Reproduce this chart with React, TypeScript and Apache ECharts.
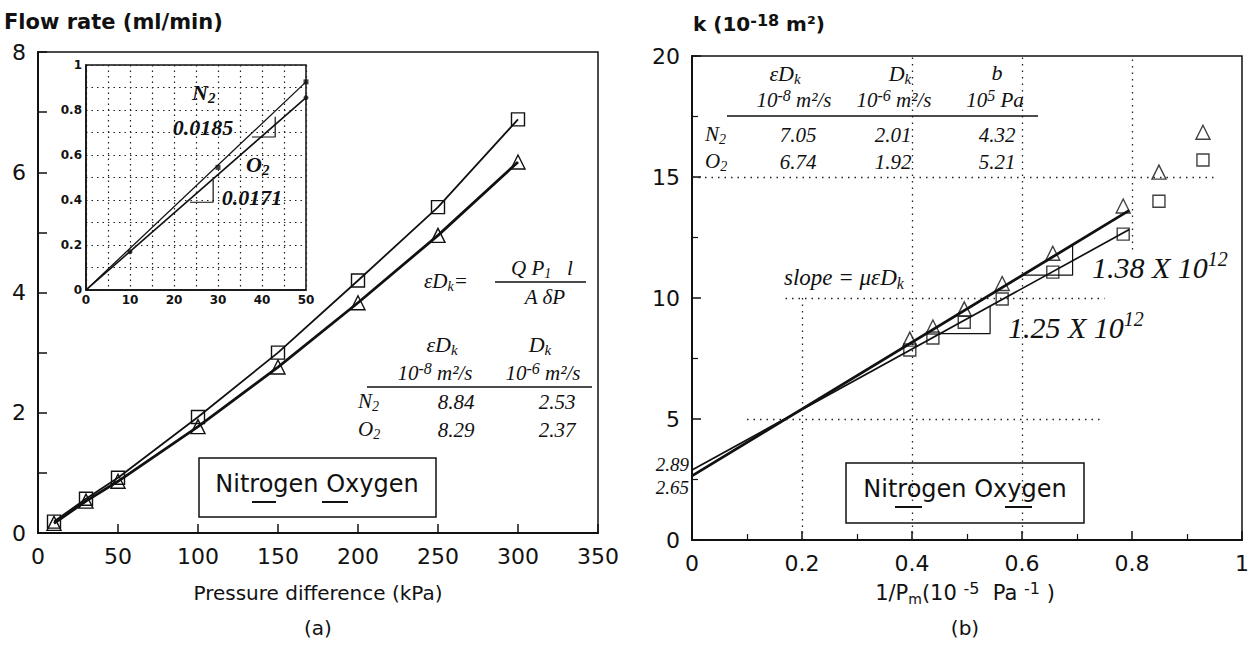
import React, { useEffect, useRef } from 'react';
import * as echarts from 'echarts';

// ---------- data (a) ----------
const PRESSURE_KPA = [10, 30, 50, 100, 150, 200, 250, 300];
const FLOW_N2 = [0.19, 0.57, 0.92, 1.93, 3.0, 4.2, 5.42, 6.88];
const FLOW_O2 = [0.16, 0.53, 0.86, 1.77, 2.76, 3.83, 4.95, 6.17];

// inset
const INSET_SLOPE_N2 = 0.0185;
const INSET_SLOPE_O2 = 0.0171;
const INSET_X_END = 50;
const INSET_N2_POINTS = [[30, 0.545], [50, 0.925]];
const INSET_O2_POINTS = [[10, 0.17], [50, 0.855]];
const INSET_TRI_N2 = [[37.7, 0.68], [43, 0.68], [43, 0.77]];
const INSET_TRI_O2 = [[23.6, 0.39], [28.9, 0.39], [28.9, 0.49]];

// ---------- data (b) ----------
const INV_PM = [0.396, 0.438, 0.495, 0.564, 0.656, 0.784];
const K_N2 = [7.85, 8.35, 9.0, 9.96, 11.07, 12.64];
const K_O2 = [8.3, 8.8, 9.55, 10.6, 11.85, 13.8];
const EXTRA_INV_PM = [0.849, 0.929];
const EXTRA_K_N2 = [14.0, 15.7];
const EXTRA_K_O2 = [15.2, 16.85];
const N2_INTERCEPT = 2.89;
const N2_SLOPE = 12.5;
const O2_INTERCEPT = 2.65;
const O2_SLOPE = 13.8;
const FIT_X_END = 0.795;
const TRI_N2_X = [0.451, 0.542];
const TRI_O2_X = [0.601, 0.692];
// dotted guide segments [x1, y1, x2, y2]
const GUIDE_SEGMENTS = [
  [0.2, 0, 0.2, 10],
  [0.4, 0, 0.4, 20],
  [0.6, 0, 0.6, 20],
  [0.8, 12, 0.8, 20],
  [0.1, 5, 0.75, 5],
  [0.17, 10, 0.75, 10],
  [0, 15, 0.95, 15],
];

const INK = '#111';
const SANS = 'DejaVu Sans';
const SERIF = 'Liberation Serif';

const rich = (x: number, y: number, text: string, size: number, o: any = {}) => {
  const family = o.family ?? SERIF;
  const fontStyle = o.italic === false ? 'normal' : 'italic';
  const fontWeight = o.bold ? 'bold' : 'normal';
  const base = { fill: INK, fontFamily: family, fontStyle, fontWeight };
  const supScale = o.supScale ?? 0.68;
  return {
    type: 'text',
    x,
    y,
    z: 50,
    style: {
      text,
      align: o.align ?? 'left',
      verticalAlign: 'middle',
      fontSize: size,
      fontFamily: family,
      fontStyle,
      fontWeight,
      fill: INK,
      rich: {
        m: { ...base, fontSize: size, lineHeight: Math.round(size * 1.2), verticalAlign: 'middle' },
        sub: { ...base, fontSize: Math.round(size * 0.68), lineHeight: Math.round(size * 0.6), verticalAlign: 'bottom' },
        sup: { ...base, fontSize: Math.round(size * supScale), lineHeight: Math.round(size * 0.5), verticalAlign: 'top' },
      },
    },
  };
};

const hline = (x1: number, y1: number, x2: number, y2: number, w = 1.5) => ({
  type: 'line',
  z: 50,
  shape: { x1, y1, x2, y2 },
  style: { stroke: INK, lineWidth: w },
});

const box = (x: number, y: number, width: number, height: number) => ({
  type: 'rect',
  z: 40,
  shape: { x, y, width, height },
  style: { fill: 'none', stroke: INK, lineWidth: 1.5 },
});

const sans = { family: SANS, italic: false };

const axisBase = {
  type: 'value',
  axisLine: { show: true, onZero: false, lineStyle: { color: INK, width: 2 } },
  axisTick: { show: true, inside: true, length: 9, lineStyle: { color: INK, width: 1.5 } },
  axisLabel: { color: INK, fontFamily: SANS, fontSize: 22 },
  splitLine: { show: false },
};

const hollow = { color: 'transparent', borderColor: INK, borderWidth: 1.4 };

export default function App() {
  const ref = useRef<HTMLDivElement>(null);

  useEffect(() => {
    if (!ref.current) return;
    const chart = echarts.init(ref.current, undefined, { renderer: 'svg' });

    const triData = (xs: number[], b: number, s: number) => [
      [xs[0], b + s * xs[0]],
      [xs[1], b + s * xs[0]],
      [xs[1], b + s * xs[1]],
    ];

    const option: any = {
      animation: false,
      backgroundColor: '#fff',
      grid: [
        { left: 38, top: 52, width: 560, height: 481, show: true, borderColor: INK, borderWidth: 1.5, backgroundColor: 'transparent' },
        { left: 86, top: 65, width: 220, height: 225, show: true, borderColor: INK, borderWidth: 1.5, backgroundColor: '#fff' },
        { left: 692, top: 56, width: 550, height: 484, show: true, borderColor: INK, borderWidth: 1.5, backgroundColor: 'transparent' },
      ],
      xAxis: [
        { ...axisBase, gridIndex: 0, min: 0, max: 350, interval: 50, axisLabel: { ...axisBase.axisLabel, margin: 12 } },
        {
          ...axisBase,
          gridIndex: 1,
          min: 0,
          max: 50,
          interval: 5,
          axisLine: { show: true, lineStyle: { color: INK, width: 1.5 } },
          axisTick: { show: false },
          axisLabel: {
            color: INK, fontFamily: SANS, fontSize: 12, fontWeight: 'bold', margin: 4,
            formatter: (v: number) => (Math.round(v) % 10 === 0 ? String(Math.round(v)) : ''),
          },
          splitLine: { show: true, lineStyle: { color: '#222', width: 1.2, type: [1.5, 4] } },
        },
        {
          ...axisBase,
          gridIndex: 2,
          min: 0,
          max: 1,
          interval: 0.2,
          minorTick: { show: true, splitNumber: 2, length: 6, lineStyle: { color: INK, width: 1.2 } },
          axisLabel: { ...axisBase.axisLabel, margin: 12, formatter: (v: number) => String(Math.round(v * 10) / 10) },
        },
      ],
      yAxis: [
        {
          ...axisBase,
          gridIndex: 0,
          min: 0,
          max: 8,
          interval: 1,
          axisLabel: { ...axisBase.axisLabel, margin: 12, formatter: (v: number) => (v % 2 === 0 ? String(v) : '') },
        },
        {
          ...axisBase,
          gridIndex: 1,
          min: 0,
          max: 1,
          interval: 0.1,
          axisLine: { show: true, lineStyle: { color: INK, width: 1.5 } },
          axisTick: { show: false },
          axisLabel: {
            color: INK, fontFamily: SANS, fontSize: 12, fontWeight: 'bold', margin: 4,
            formatter: (v: number) => {
              const t = Math.round(v * 10);
              return t % 2 === 0 ? String(t / 10) : '';
            },
          },
          splitLine: { show: true, lineStyle: { color: '#222', width: 1.2, type: [1.5, 4] } },
        },
        {
          ...axisBase,
          gridIndex: 2,
          min: 0,
          max: 20,
          interval: 5,
          minorTick: { show: true, splitNumber: 2, length: 6, lineStyle: { color: INK, width: 1.2 } },
          axisLabel: { ...axisBase.axisLabel, margin: 12 },
        },
      ],
      series: [
        {
          type: 'line', xAxisIndex: 0, yAxisIndex: 0, z: 4,
          data: PRESSURE_KPA.map((p, i) => [p, FLOW_N2[i]]),
          symbol: 'rect', symbolSize: 13,
          lineStyle: { color: INK, width: 1.8 }, itemStyle: hollow,
        },
        {
          type: 'line', xAxisIndex: 0, yAxisIndex: 0, z: 4,
          data: PRESSURE_KPA.map((p, i) => [p, FLOW_O2[i]]),
          symbol: 'triangle', symbolSize: 14,
          lineStyle: { color: INK, width: 2.8 }, itemStyle: hollow,
        },
        {
          type: 'line', xAxisIndex: 1, yAxisIndex: 1, z: 4, showSymbol: false,
          data: [[0, 0], [INSET_X_END, INSET_SLOPE_N2 * INSET_X_END]],
          lineStyle: { color: INK, width: 1.3 },
        },
        {
          type: 'line', xAxisIndex: 1, yAxisIndex: 1, z: 4, showSymbol: false,
          data: [[0, 0], [INSET_X_END, INSET_SLOPE_O2 * INSET_X_END]],
          lineStyle: { color: INK, width: 1.6 },
        },
        {
          type: 'scatter', xAxisIndex: 1, yAxisIndex: 1, z: 5,
          data: INSET_N2_POINTS, symbol: 'rect', symbolSize: 5, itemStyle: { color: INK },
        },
        {
          type: 'scatter', xAxisIndex: 1, yAxisIndex: 1, z: 5,
          data: INSET_O2_POINTS, symbol: 'circle', symbolSize: 5, itemStyle: { color: INK },
        },
        {
          type: 'line', xAxisIndex: 1, yAxisIndex: 1, z: 4, showSymbol: false,
          data: INSET_TRI_N2, lineStyle: { color: INK, width: 1.2 },
        },
        {
          type: 'line', xAxisIndex: 1, yAxisIndex: 1, z: 4, showSymbol: false,
          data: INSET_TRI_O2, lineStyle: { color: INK, width: 1.2 },
        },
        {
          type: 'line', xAxisIndex: 2, yAxisIndex: 2, z: 4, showSymbol: false,
          data: [[0, N2_INTERCEPT], [FIT_X_END, N2_INTERCEPT + N2_SLOPE * FIT_X_END]],
          lineStyle: { color: INK, width: 1.7 },
          markLine: {
            silent: true, symbol: 'none', label: { show: false },
            lineStyle: { type: [1.5, 5], color: '#222', width: 1.3 },
            data: GUIDE_SEGMENTS.map(([x1, y1, x2, y2]) => [{ coord: [x1, y1] }, { coord: [x2, y2] }]),
          },
        },
        {
          type: 'line', xAxisIndex: 2, yAxisIndex: 2, z: 4, showSymbol: false,
          data: [[0, O2_INTERCEPT], [FIT_X_END, O2_INTERCEPT + O2_SLOPE * FIT_X_END]],
          lineStyle: { color: INK, width: 2.8 },
        },
        {
          type: 'scatter', xAxisIndex: 2, yAxisIndex: 2, z: 5,
          data: [...INV_PM.map((x, i) => [x, K_N2[i]]), ...EXTRA_INV_PM.map((x, i) => [x, EXTRA_K_N2[i]])],
          symbol: 'rect', symbolSize: 12, itemStyle: hollow,
        },
        {
          type: 'scatter', xAxisIndex: 2, yAxisIndex: 2, z: 5,
          data: [...INV_PM.map((x, i) => [x, K_O2[i]]), ...EXTRA_INV_PM.map((x, i) => [x, EXTRA_K_O2[i]])],
          symbol: 'triangle', symbolSize: 14, itemStyle: hollow,
        },
        {
          type: 'line', xAxisIndex: 2, yAxisIndex: 2, z: 4, showSymbol: false,
          data: triData(TRI_N2_X, N2_INTERCEPT, N2_SLOPE), lineStyle: { color: INK, width: 1.2 },
        },
        {
          type: 'line', xAxisIndex: 2, yAxisIndex: 2, z: 4, showSymbol: false,
          data: triData(TRI_O2_X, O2_INTERCEPT, O2_SLOPE), lineStyle: { color: INK, width: 1.2 },
        },
      ],
      graphic: [
        // ---- (a) ----
        rich(4, 22, '{m|Flow rate (ml/min)}', 21, { ...sans, bold: true }),
        rich(318, 593, '{m|Pressure difference (kPa)}', 20, { ...sans, align: 'center' }),
        rich(318, 628, '{m|(a)}', 20, { ...sans, align: 'center' }),
        rich(424, 281, '{m|εD}{sub|k}{m|=}', 21),
        rich(542, 268, '{m|Q P}{sub|1}{m|   l}', 21, { align: 'center' }),
        hline(495, 282, 586, 282, 1.3),
        rich(545, 297, '{m|A δP}', 21, { align: 'center' }),
        rich(442, 344, '{m|εD}{sub|k}', 22, { align: 'center' }),
        rich(540, 344, '{m|D}{sub|k}', 22, { align: 'center' }),
        rich(435, 373, '{m|10}{sup|-8}{m| m²/s}', 21, { align: 'center', supScale: 0.75 }),
        rich(543, 373, '{m|10}{sup|-6}{m| m²/s}', 21, { align: 'center', supScale: 0.75 }),
        hline(367, 387, 592, 387),
        rich(358, 401, '{m|N}{sub|2}', 21),
        rich(456, 402, '{m|8.84}', 21, { align: 'center' }),
        rich(557, 402, '{m|2.53}', 21, { align: 'center' }),
        rich(358, 429, '{m|O}{sub|2}', 21),
        rich(456, 430, '{m|8.29}', 21, { align: 'center' }),
        rich(557, 430, '{m|2.37}', 21, { align: 'center' }),
        rich(192, 92, '{m|N}{sub|2}', 22, { bold: true }),
        rich(203, 127, '{m|0.0185}', 22, { bold: true, align: 'center' }),
        rich(246, 164, '{m|O}{sub|2}', 22, { bold: true }),
        rich(252, 197, '{m|0.0171}', 22, { bold: true, align: 'center' }),
        box(199, 458, 237, 59),
        rich(317, 484, '{m|Nitrogen Oxygen}', 24, { ...sans, align: 'center' }),
        hline(252, 502, 276, 502, 2),
        hline(322, 502, 348, 502, 2),
        // ---- (b) ----
        rich(693, 24, '{m|k (10}{sup|-18}{m| m²)}', 20, { ...sans, bold: true, supScale: 0.8 }),
        rich(965, 593, '{m|1/P}{sub|m}{m|(10 }{sup|-5}{m|  Pa }{sup|-1}{m| )}', 21, { ...sans, align: 'center', supScale: 0.75 }),
        rich(965, 628, '{m|(b)}', 20, { ...sans, align: 'center' }),
        rich(785, 73, '{m|εD}{sub|k}', 22, { align: 'center' }),
        rich(900, 73, '{m|D}{sub|k}', 22, { align: 'center' }),
        rich(997, 72, '{m|b}', 22, { align: 'center' }),
        rich(794, 100, '{m|10}{sup|-8}{m| m²/s}', 21, { align: 'center', supScale: 0.75 }),
        rich(894, 100, '{m|10}{sup|-6}{m| m²/s}', 21, { align: 'center', supScale: 0.75 }),
        rich(995, 100, '{m|10}{sup|5}{m| Pa}', 21, { align: 'center', supScale: 0.75 }),
        hline(727, 116, 1038, 116),
        rich(705, 134, '{m|N}{sub|2}', 21),
        rich(798, 135, '{m|7.05}', 21, { align: 'center' }),
        rich(893, 135, '{m|2.01}', 21, { align: 'center' }),
        rich(997, 135, '{m|4.32}', 21, { align: 'center' }),
        rich(705, 161, '{m|O}{sub|2}', 21),
        rich(798, 162, '{m|6.74}', 21, { align: 'center' }),
        rich(893, 162, '{m|1.92}', 21, { align: 'center' }),
        rich(997, 162, '{m|5.21}', 21, { align: 'center' }),
        rich(784, 277, '{m|slope = μεD}{sub|k}', 23),
        rich(1092, 267, '{m|1.38 X 10}{sup|12}', 30),
        rich(1008, 327, '{m|1.25 X 10}{sup|12}', 30),
        rich(689, 464, '{m|2.89}', 19, { align: 'right' }),
        rich(689, 487, '{m|2.65}', 19, { align: 'right' }),
        box(846, 463, 238, 60),
        rich(965, 489, '{m|Nitrogen Oxygen}', 24, { ...sans, align: 'center' }),
        hline(895, 507, 922, 507, 2),
        hline(1005, 507, 1032, 507, 2),
      ],
    };

    chart.setOption(option);
    return () => chart.dispose();
  }, []);

  return (
    <div
      ref={ref}
      style={{ position: 'absolute', left: 0, top: 0, width: 1253, height: 645, background: '#fff' }}
    />
  );
}
